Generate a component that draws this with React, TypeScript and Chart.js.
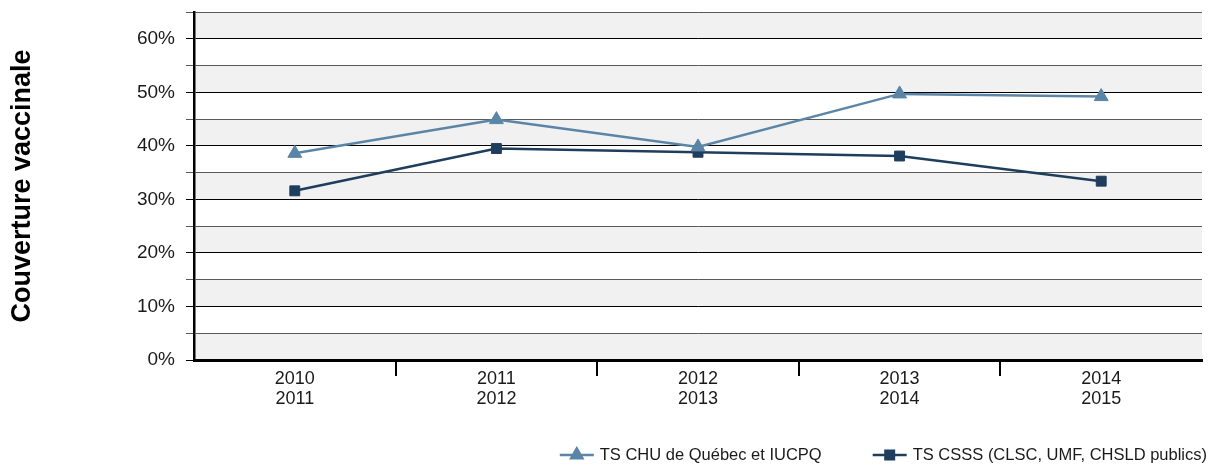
import React, { useEffect, useRef } from 'react';
import { Chart, registerables } from 'chart.js';

Chart.register(...registerables);

const categories: string[][] = [
  ['2010', '2011'],
  ['2011', '2012'],
  ['2012', '2013'],
  ['2013', '2014'],
  ['2014', '2015'],
];
const chuValues = [38.6, 44.9, 39.8, 49.7, 49.2];
const csssValues = [31.6, 39.5, 38.8, 38.1, 33.4];
const seriesNames = ['TS CHU de Québec et IUCPQ', 'TS CSSS (CLSC, UMF, CHSLD publics)'];
const yTitle = 'Couverture vaccinale';
const yMin = 0;
const yMax = 65;
const yStep = 5;
const yLabelStep = 10;

const CHU_COLOR = '#5b85a6';
const CSSS_COLOR = '#1f3d5c';
const TEXT_COLOR = '#1a1a1a';
const FAMILY = '"Liberation Sans", Arial, Helvetica, sans-serif';

const bandsPlugin = {
  id: 'bands',
  beforeDraw(chart: any) {
    const { ctx, chartArea, scales } = chart;
    const y = scales.y;
    ctx.save();
    ctx.fillStyle = '#f1f1f1';
    for (let v = yMin; v < yMax; v += yLabelStep) {
      const top = y.getPixelForValue(Math.min(v + yStep, yMax));
      const bottom = y.getPixelForValue(v);
      ctx.fillRect(chartArea.left, top, chartArea.right - chartArea.left, bottom - top);
    }
    ctx.restore();
  },
};

const legendPlugin = {
  id: 'lineLegend',
  afterDraw(chart: any) {
    const ctx = chart.ctx;
    ctx.save();
    ctx.font = `16.5px ${FAMILY}`;
    ctx.textBaseline = 'middle';
    ctx.textAlign = 'left';
    const cy = 455;
    const right = chart.width - 5;
    const iconW = 34;
    const gap = 6;
    const itemGap = 51;
    const items = chart.data.datasets.map((ds: any) => ({
      label: ds.label,
      color: ds.borderColor,
      style: ds.pointStyle,
      w: ctx.measureText(ds.label).width,
    }));
    const pos: { textX: number; iconX: number }[] = [];
    let x = right;
    for (let i = items.length - 1; i >= 0; i--) {
      const textX = x - items[i].w;
      const iconX = textX - gap - iconW;
      pos[i] = { textX, iconX };
      x = iconX - itemGap;
    }
    items.forEach((it: any, i: number) => {
      const { textX, iconX } = pos[i];
      ctx.strokeStyle = it.color;
      ctx.fillStyle = it.color;
      ctx.lineWidth = 2.5;
      ctx.beginPath();
      ctx.moveTo(iconX, cy);
      ctx.lineTo(iconX + iconW, cy);
      ctx.stroke();
      const mx = iconX + iconW / 2;
      ctx.beginPath();
      if (it.style === 'triangle') {
        const r = 9;
        ctx.moveTo(mx, cy - r);
        ctx.lineTo(mx + r * 0.866, cy + r / 2);
        ctx.lineTo(mx - r * 0.866, cy + r / 2);
        ctx.closePath();
      } else {
        const s = 5.5;
        ctx.rect(mx - s, cy - s, 2 * s, 2 * s);
      }
      ctx.fill();
      ctx.fillStyle = TEXT_COLOR;
      ctx.fillText(it.label, textX, cy);
    });
    ctx.restore();
  },
};

export default function App() {
  const canvasRef = useRef<HTMLCanvasElement | null>(null);

  useEffect(() => {
    if (!canvasRef.current) return;
    const chart = new Chart(canvasRef.current, {
      type: 'line',
      data: {
        labels: categories,
        datasets: [
          {
            label: seriesNames[0],
            data: chuValues,
            borderColor: CHU_COLOR,
            backgroundColor: CHU_COLOR,
            pointBackgroundColor: CHU_COLOR,
            pointBorderColor: CHU_COLOR,
            pointStyle: 'triangle',
            pointRadius: 8,
            pointBorderWidth: 1,
            borderWidth: 2.5,
            tension: 0,
            fill: false,
          },
          {
            label: seriesNames[1],
            data: csssValues,
            borderColor: CSSS_COLOR,
            backgroundColor: CSSS_COLOR,
            pointBackgroundColor: CSSS_COLOR,
            pointBorderColor: CSSS_COLOR,
            pointStyle: 'rect',
            pointRadius: 7,
            pointBorderWidth: 1,
            borderWidth: 2.5,
            tension: 0,
            fill: false,
          },
        ],
      },
      options: {
        responsive: false,
        animation: false,
        devicePixelRatio: 1,
        layout: { padding: { top: 12, right: 10, bottom: 46, left: 0 } },
        plugins: {
          legend: { display: false },
          tooltip: { enabled: false },
          title: { display: false },
        },
        scales: {
          x: {
            type: 'category',
            offset: true,
            grid: {
              offset: true,
              drawOnChartArea: false,
              drawTicks: true,
              tickLength: 16,
              lineWidth: 2,
              color: (c: any) => (c.index === undefined || c.index === 0 ? 'rgba(0,0,0,0)' : '#000'),
            },
            border: { display: true, color: '#000', width: 3 },
            ticks: {
              font: { size: 18, family: FAMILY, lineHeight: 1.1 },
              color: TEXT_COLOR,
              padding: -7,
              maxRotation: 0,
              autoSkip: false,
            },
            afterFit: (s: any) => {
              s.height = 60;
            },
          },
          y: {
            min: yMin,
            max: yMax,
            ticks: {
              stepSize: yStep,
              font: { size: 19, family: FAMILY },
              color: TEXT_COLOR,
              padding: 11,
              callback: (v: any) => (Number(v) % yLabelStep === 0 ? `${v}%` : ''),
            },
            grid: {
              color: (c: any) => (c.tick && c.tick.value % yLabelStep === 0 ? '#000' : '#5a5a5a'),
              lineWidth: 1,
              tickLength: 8,
              drawTicks: true,
            },
            border: { display: true, color: '#000', width: 2.5 },
            title: {
              display: true,
              text: yTitle,
              color: '#000',
              font: { size: 27, weight: 'bold', family: FAMILY, lineHeight: 1.2 },
              padding: { top: 6, bottom: 0 },
            },
            afterFit: (s: any) => {
              s.width = 194;
              s.paddingTop = 0;
              s.paddingBottom = 0;
            },
          },
        },
      },
      plugins: [bandsPlugin, legendPlugin],
    } as any);
    return () => chart.destroy();
  }, []);

  return (
    <div style={{ position: 'absolute', left: 0, top: 0, width: 1212, height: 466, background: '#fff' }}>
      <canvas ref={canvasRef} width={1212} height={466} />
    </div>
  );
}
